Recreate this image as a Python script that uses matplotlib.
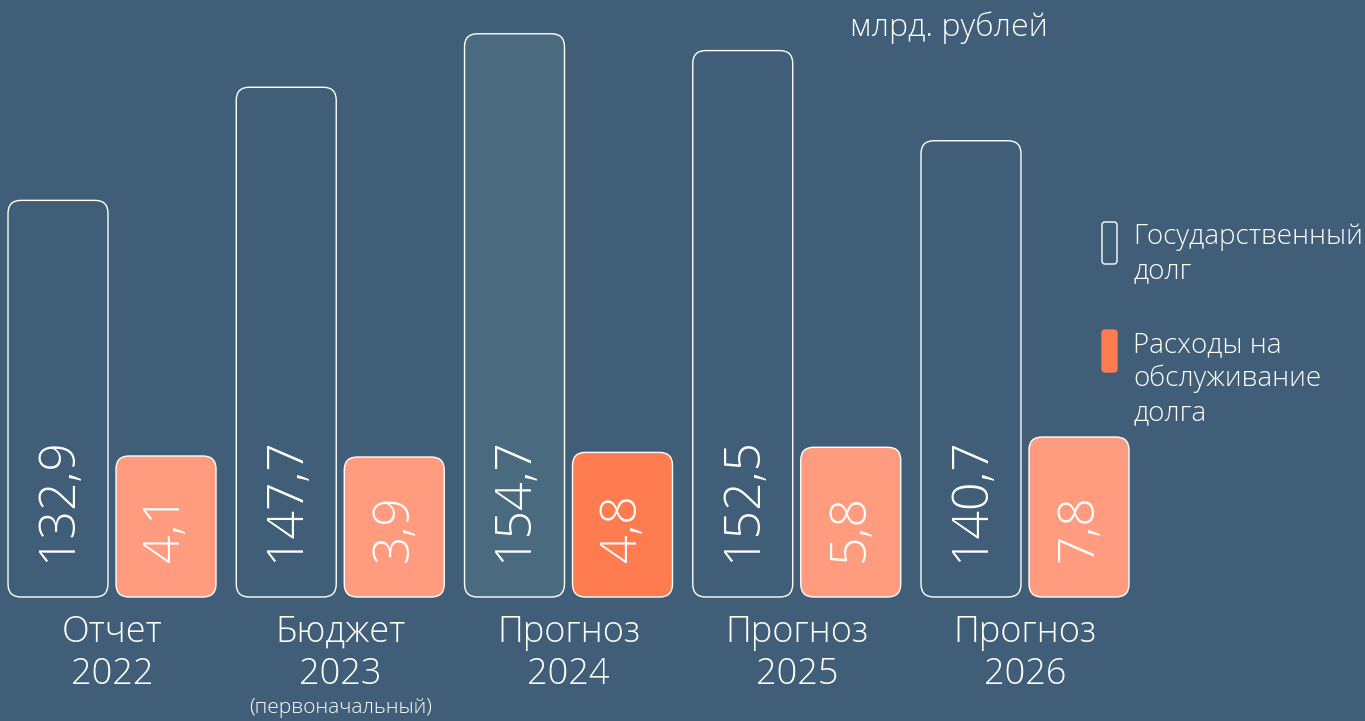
import matplotlib
matplotlib.use("Agg")
import matplotlib.pyplot as plt
from matplotlib.patches import FancyBboxPatch
from matplotlib.transforms import IdentityTransform

# Data
categories = ["Отчет", "Бюджет", "Прогноз", "Прогноз", "Прогноз"]
years = ["2022", "2023", "2024", "2025", "2026"]
debt = [132.9, 147.7, 154.7, 152.5, 140.7]
service = [4.1, 3.9, 4.8, 5.8, 7.8]
highlight = 2  # current-year forecast is emphasised

BG = "#405E78"
DEBT_HI = "#4A6B7F"
SALMON = "#FF9B7E"
ORANGE = "#FF7B50"
WHITE = "white"
FONT = "Open Sans"

W, H = 1365, 721
fig = plt.figure(figsize=(W / 100, H / 100), dpi=100, facecolor=BG)

bottom_px, top_px = 597, 33
ax = fig.add_axes([0, (H - bottom_px) / H, 1, (bottom_px - top_px) / H])
ax.set_facecolor("none")
ax.set_xlim(-0.4907, 5.4896)
ax.set_ylim(81, 154.8)
ax.axis("off")

ax2 = ax.twinx()
ax2.set_ylim(-23.4, 86.6)
ax2.axis("off")

x = list(range(len(debt)))
offset = 0.2366
width = 0.438

bars_debt = ax.bar([i - offset for i in x], [d - 81 for d in debt], bottom=81,
                   width=width, visible=False)
bars_serv = ax2.bar([i + offset for i in x], [s + 23.4 for s in service], bottom=-23.4,
                    width=width, visible=False)

fig.canvas.draw()


def rounded(bar, axis, face, r=13):
    x0, y0 = bar.get_x(), bar.get_y()
    x1, y1 = x0 + bar.get_width(), y0 + bar.get_height()
    (px0, py0), (px1, py1) = axis.transData.transform([(x0, y0), (x1, y1)])
    p = FancyBboxPatch((px0, py0), px1 - px0, py1 - py0,
                       boxstyle=f"round,pad=0,rounding_size={r}",
                       facecolor=face, edgecolor=WHITE, linewidth=1.0,
                       transform=IdentityTransform(), clip_on=False)
    fig.add_artist(p)
    return (px0 + px1) / 2, py0


for i, (bd, bs) in enumerate(zip(bars_debt, bars_serv)):
    cx, by = rounded(bd, ax, DEBT_HI if i == highlight else BG)
    fig.text(cx / W, (by + 35) / H, f"{debt[i]:.1f}".replace(".", ","),
             rotation=90, ha="center", va="bottom", color=WHITE,
             fontsize=36, family=FONT, fontweight="light")
    cx, by = rounded(bs, ax2, ORANGE if i == highlight else SALMON)
    fig.text(cx / W, (by + 35) / H, f"{service[i]:.1f}".replace(".", ","),
             rotation=90, ha="center", va="bottom", color=WHITE,
             fontsize=36, family=FONT, fontweight="light")

# Category labels under each pair
for i in x:
    gx = ax.transData.transform((i, 81))[0]
    fig.text(gx / W, (H - 642) / H, categories[i], ha="center", va="baseline",
             color=WHITE, fontsize=26, family=FONT, fontweight="light")
    fig.text(gx / W, (H - 684) / H, years[i], ha="center", va="baseline",
             color=WHITE, fontsize=26, family=FONT, fontweight="light")
    if i == 1:
        fig.text(gx / W, (H - 713) / H, "(первоначальный)", ha="center",
                 va="baseline", color=WHITE, fontsize=15, family=FONT,
                 fontweight="light")

# Units
fig.text(949 / W, (H - 36) / H, "млрд. рублей", ha="center", va="baseline",
         color=WHITE, fontsize=23, family=FONT, fontweight="light")

# Legend
for (y0, face, edge) in [(222, "none", WHITE), (330, ORANGE, ORANGE)]:
    fig.add_artist(FancyBboxPatch((1102, H - y0 - 42), 15, 42,
                                  boxstyle="round,pad=0,rounding_size=3",
                                  facecolor=face, edgecolor=edge, linewidth=1.0,
                                  transform=IdentityTransform(), clip_on=False))
legend_lines = [(244, "Государственный"), (278, "долг"),
                (352, "Расходы на"), (386, "обслуживание"), (420, "долга")]
for yb, txt in legend_lines:
    fig.text(1133 / W, (H - yb) / H, txt, ha="left", va="baseline",
             color=WHITE, fontsize=20, family=FONT, fontweight="light")

fig.savefig("out.png", dpi=100, facecolor=BG)
